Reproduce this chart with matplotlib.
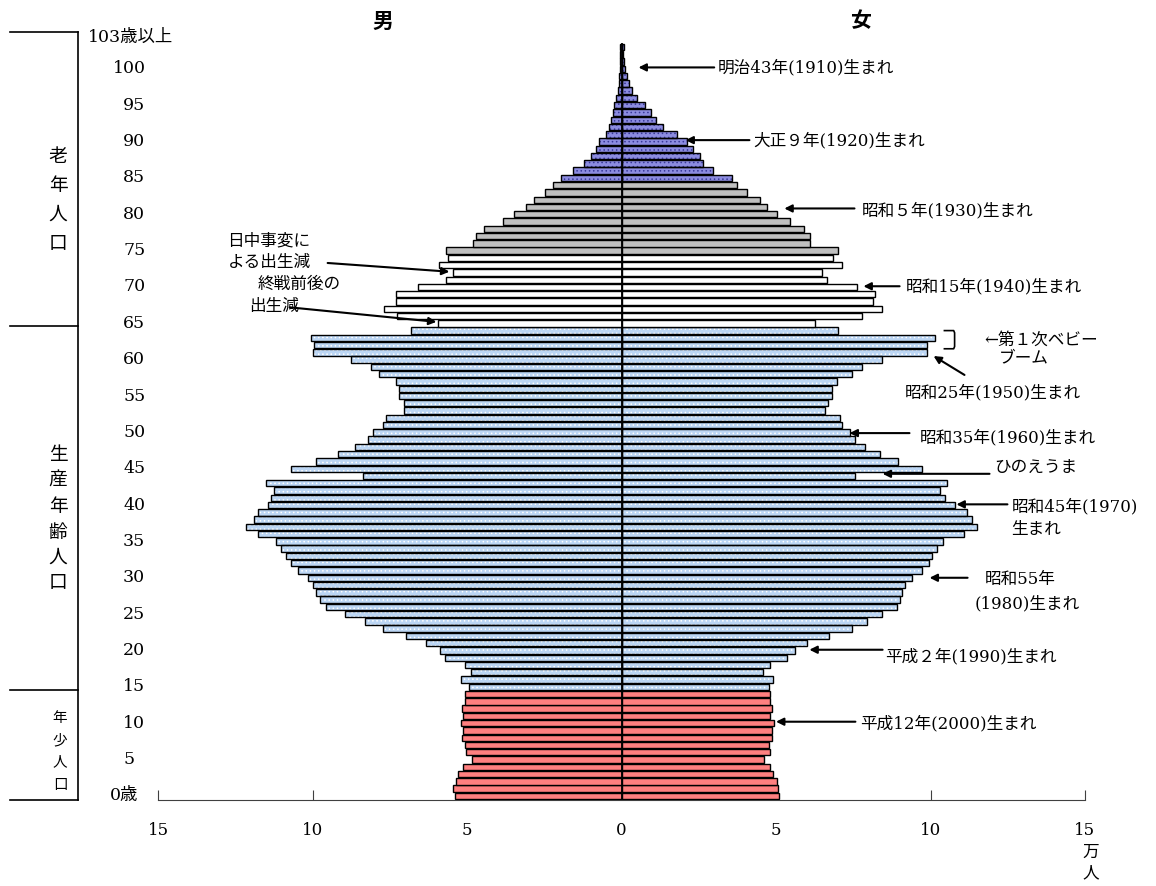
import numpy as np
import matplotlib.pyplot as plt
from matplotlib.lines import Line2D

plt.rcParams['font.family'] = ['DejaVu Serif', 'Noto Sans CJK JP']
plt.rcParams['hatch.linewidth'] = 0.6

W, H = 1156, 886

# population by single year of age, 0 .. 103+ (unit: 10,000 persons)
male = [5.40, 5.44, 5.34, 5.28, 5.12, 4.85, 5.02, 5.07, 5.17, 5.12,
        5.18, 5.12, 5.17, 5.07, 5.07, 4.95, 5.18, 4.86, 5.07, 5.72,
        5.88, 6.32, 6.96, 7.72, 8.31, 8.96, 9.56, 9.77, 9.88, 9.99,
        10.15, 10.47, 10.69, 10.85, 11.01, 11.18, 11.77, 12.15, 11.88, 11.77,
        11.45, 11.34, 11.23, 11.50, 8.37, 10.69, 9.88, 9.18, 8.64, 8.21,
        8.04, 7.72, 7.63, 7.03, 7.03, 7.19, 7.19, 7.30, 7.84, 8.11,
        8.76, 10.00, 9.95, 10.05, 6.81, 5.95, 7.25, 7.68, 7.30, 7.30,
        6.60, 5.68, 5.46, 5.90, 5.63, 5.68, 4.82, 4.71, 4.44, 3.85,
        3.47, 3.09, 2.82, 2.49, 2.23, 1.96, 1.58, 1.20, 0.98, 0.82,
        0.74, 0.50, 0.41, 0.34, 0.27, 0.23, 0.17, 0.12, 0.09, 0.07,
        0.05, 0.04, 0.04, 0.06]
female = [5.09, 5.08, 5.04, 4.90, 4.81, 4.61, 4.81, 4.76, 4.86, 4.86,
          4.92, 4.81, 4.86, 4.81, 4.81, 4.76, 4.91, 4.59, 4.81, 5.35,
          5.62, 5.99, 6.70, 7.45, 7.94, 8.42, 8.91, 9.02, 9.07, 9.18,
          9.39, 9.72, 9.94, 10.04, 10.20, 10.42, 11.07, 11.50, 11.34, 11.18,
          10.80, 10.48, 10.31, 10.53, 7.56, 9.72, 8.96, 8.37, 7.89, 7.56,
          7.40, 7.13, 7.07, 6.59, 6.69, 6.80, 6.80, 6.96, 7.45, 7.78,
          8.42, 9.88, 9.88, 10.15, 7.02, 6.27, 7.78, 8.42, 8.15, 8.21,
          7.61, 6.64, 6.48, 7.13, 6.86, 7.02, 6.10, 6.10, 5.89, 5.46,
          5.02, 4.70, 4.48, 4.05, 3.73, 3.56, 2.97, 2.65, 2.55, 2.32,
          2.11, 1.78, 1.35, 1.13, 0.97, 0.76, 0.49, 0.33, 0.25, 0.17,
          0.12, 0.08, 0.06, 0.08]

ages = np.arange(len(male))
male = np.array(male)
female = np.array(female)

# age groups: (first age, last age, face colour, hatch, hatch colour)
groups = [(0, 14, '#FF8080', None, None),
          (15, 64, '#BCD6F4', '....', 'white'),
          (65, 74, 'white', None, None),
          (75, 84, '#C0C0C0', None, None),
          (85, 103, '#8C8CE0', '....', '#3A3A9A')]

fig = plt.figure(figsize=(W / 100, H / 100), dpi=100)
ax = fig.add_axes([158 / W, (H - 799.5) / H, 927 / W, (799.5 - 39.8) / H])

bh = 0.88
for a0, a1, fc, hatch, hc in groups:
    sel = (ages >= a0) & (ages <= a1)
    for vals in (-male[sel], female[sel]):
        if hatch:
            ax.barh(ages[sel], vals, height=bh, color=fc, hatch=hatch,
                    edgecolor=hc, linewidth=0, zorder=2)
            ax.barh(ages[sel], vals, height=bh, fill=False,
                    edgecolor='black', linewidth=1.0, zorder=3)
        else:
            ax.barh(ages[sel], vals, height=bh, color=fc,
                    edgecolor='black', linewidth=1.0, zorder=3)

ax.vlines(0, -0.5, 103.5, color='black', linewidth=1.3, zorder=5)

ax.set_xlim(-15, 15)
ax.set_ylim(-0.5, 104)
for s in ['top', 'right', 'left']:
    ax.spines[s].set_visible(False)
ax.spines['bottom'].set_color('#404040')
ax.set_yticks([])
ax.set_xticks([-15, -10, -5, 0, 5, 10, 15])
ax.set_xticklabels(['15', '10', '5', '0', '5', '10', '15'])
ax.tick_params(axis='x', direction='in', length=7, color='#404040',
               labelsize=12, pad=16)


def ftext(px, py, s, **kw):
    fig.text(px / W, 1 - py / H, s, **kw)


def fline(xs, ys, **kw):
    fig.add_artist(Line2D([x / W for x in xs], [1 - y / H for y in ys],
                          color='black', linewidth=1.2, **kw))


# unit under the right end of the axis
ftext(1091, 852, '万', ha='center', va='center', fontsize=12)
ftext(1091, 873, '人', ha='center', va='center', fontsize=12)

# age labels
age_labels = ['0歳', '5', '10', '15', '20', '25', '30', '35', '40', '45', '50',
              '55', '60', '65', '70', '75', '80', '85', '90', '95', '100']
for i, lab in enumerate(age_labels):
    yv = 5 * i
    if lab == '0歳':
        xp = 110
    elif lab == '100':
        xp = 113
    else:
        xp = 123
    ax.text((xp - 158) / 927, yv, lab, transform=ax.get_yaxis_transform(),
            ha='left', va='center', fontsize=12.5)
ax.text((88 - 158) / 927, 104.3, '103歳以上', transform=ax.get_yaxis_transform(),
        ha='left', va='center', fontsize=12.5)

# sex headers
ftext(383, 21, '男', ha='center', va='center', fontsize=15, fontweight='bold',
      family=['Noto Sans CJK JP'])
ftext(860, 21, '女', ha='center', va='center', fontsize=15, fontweight='bold',
      family=['Noto Sans CJK JP'])

# bracket of the age groups on the far left
fline([78, 78], [32, 800])
for yy in [32, 326, 690, 800]:
    fline([10, 78], [yy, yy])
for ch, yy in zip('老年人口', [157, 186, 215, 244]):
    ftext(58, yy, ch, ha='center', va='center', fontsize=13.5)
for ch, yy in zip('生産年齢人口', [455, 481, 507, 533, 558, 583]):
    ftext(58, yy, ch, ha='center', va='center', fontsize=13.5)
for ch, yy in zip('年少人口', [718, 740, 762, 785]):
    ftext(60, yy, ch, ha='center', va='center', fontsize=10.5)

# annotations: (text, text x, text y, tail, tip) in data units
arw = dict(arrowstyle='-|>', color='black', lw=1.5, mutation_scale=11,
           shrinkA=0, shrinkB=0)
notes = [('明治43年(1910)生まれ', 3.10, 100.1, (3.0, 100.2), (0.55, 100.2)),
         ('大正９年(1920)生まれ', 4.27, 90.1, (4.14, 90.2), (2.07, 90.2)),
         ('昭和５年(1930)生まれ', 7.77, 80.4, (7.54, 80.8), (5.27, 80.8)),
         ('昭和15年(1940)生まれ', 9.19, 70.0, (9.0, 70.1), (7.83, 70.1)),
         ('昭和35年(1960)生まれ', 9.64, 49.2, (9.32, 49.9), (7.38, 49.9)),
         ('ひのえうま', 12.07, 45.2, (11.91, 44.3), (8.45, 44.3)),
         ('昭和45年(1970)', 12.62, 39.7, (12.49, 40.1), (10.84, 40.1)),
         ('昭和55年', 11.75, 29.7, (11.2, 30.0), (9.97, 30.0)),
         ('平成２年(1990)生まれ', 8.54, 19.1, (8.45, 20.1), (6.08, 20.1)),
         ('平成12年(2000)生まれ', 7.73, 9.9, (7.57, 10.2), (5.0, 10.2)),
         ('昭和25年(1950)生まれ', 9.16, 55.4, (11.1, 57.9), (10.1, 60.5)),
         ('日中事変に', -12.75, 76.3, (-9.51, 73.3), (-5.57, 72.1)),
         ('終戦前後の', -11.78, 70.3, (-10.74, 67.2), (-5.99, 65.2))]
for txt, tx, ty, tail, tip in notes:
    ax.text(tx, ty, txt, ha='left', va='center', fontsize=12, zorder=6)
    ax.annotate('', xy=tip, xytext=tail, arrowprops=arw, annotation_clip=False)

extra = [('生まれ', 12.62, 36.6), ('(1980)生まれ', 11.42, 26.4),
         ('よる出生減', -12.75, 73.4), ('出生減', -12.04, 67.3),
         ('←第１次ベビー', 11.75, 62.7), ('ブーム', 12.2, 60.2)]
for txt, tx, ty in extra:
    ax.text(tx, ty, txt, ha='left', va='center', fontsize=12, zorder=6)

# bracket for the first baby boom
ax.plot([10.45, 10.75, 10.78, 10.78, 10.75, 10.45],
        [64.0, 64.0, 63.7, 61.8, 61.5, 61.5], color='black', lw=1.2,
        clip_on=False)

fig.savefig('out.png', dpi=100)
